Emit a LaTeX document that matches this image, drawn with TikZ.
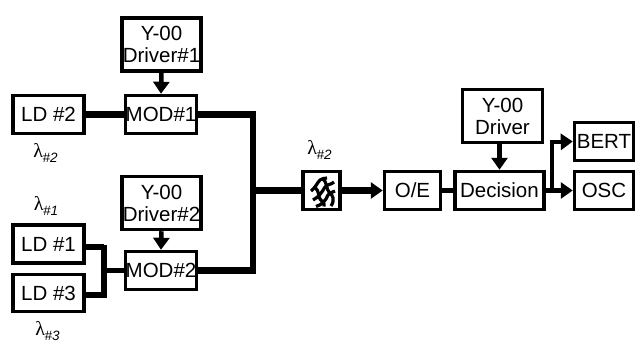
\documentclass[tikz,border=0pt]{standalone}
\usepackage{fontspec}
\setmainfont{Liberation Sans}
\newfontfamily\lamfont{Liberation Serif}
\usetikzlibrary{arrows.meta}
\tikzset{
  x=1pt,y=-1pt,
  blockbox/.style={draw=black,line width=3.5pt,fill=white,inner sep=0pt,rectangle,align=center,font=\fontsize{20.5}{23}\selectfont},
  fibre/.style={line width=6.8pt,draw=black},
  thinwire/.style={line width=4.5pt,draw=black},
  headwire/.style={-{Triangle[length=12pt,width=16pt]}},
  wavelabel/.style={inner sep=0pt,anchor=center},
  glyphline/.style={line width=3.2pt,draw=black}
}
\newcommand{\wl}[1]{{\lamfont\fontsize{20}{20}\selectfont λ}\kern-0.5pt\raisebox{-5pt}{\fontsize{13.5}{14}\selectfont\itshape\##1}}
\begin{document}
\begin{tikzpicture}
\useasboundingbox (0,0) rectangle (635,343);
\node[blockbox,minimum width=79pt,minimum height=53pt] (d1) at (161.5,44.5) {Y-00\\[-1pt]Driver\#1};
\node[blockbox,minimum width=71pt,minimum height=38pt] (m1) at (161,114.5) {MOD\#1};
\node[blockbox,minimum width=71pt,minimum height=38pt] (l2) at (48.5,114.5) {LD \#2};
\node[blockbox,minimum width=79pt,minimum height=53pt] (d2) at (161.5,203) {Y-00\\[-1pt]Driver\#2};
\node[blockbox,minimum width=71pt,minimum height=38pt] (m2) at (161,270.5) {MOD\#2};
\node[blockbox,minimum width=71pt,minimum height=38pt] (l1) at (48.5,244) {LD \#1};
\node[blockbox,minimum width=71pt,minimum height=37pt] (l3) at (48.5,293) {LD \#3};
\node[blockbox,minimum width=37pt,minimum height=38pt] (f) at (321.5,190.5) {};
\node[blockbox,minimum width=56pt,minimum height=38pt] (oe) at (412.5,190.5) {O/E};
\node[blockbox,minimum width=89pt,minimum height=38pt] (dec) at (499.5,190.5) {Decision};
\node[blockbox,minimum width=80pt,minimum height=53pt] (d3) at (502.5,116) {Y-00\\[-1pt]Driver};
\node[blockbox,minimum width=59pt,minimum height=38pt] (bert) at (604,141.5) {BERT};
\node[blockbox,minimum width=59pt,minimum height=38pt] (osc) at (604,190.5) {OSC};
\node[wavelabel] (w2) at (45.5,153) {\wl{2}};
\node[wavelabel] (w1) at (46,206) {\wl{1}};
\node[wavelabel] (w3) at (47.5,331) {\wl{3}};
\node[wavelabel] (wf) at (319.5,150) {\wl{2}};
\coordinate (bus) at (253,190.5);
\coordinate (j) at (104,270.5);
\coordinate (top) at (552,142);
\draw[fibre] (l2.east) -- (m1.west);
\draw[fibre,line join=miter] (m1.east) -| (bus);
\draw[fibre,line join=miter] (m2.east) -| (bus);
\draw[fibre] (bus) -- (f.west);
\draw[fibre,line width=5.5pt] (l1.east |- 0,247) -- (104,247);
\draw[fibre,line width=5.5pt] (l3.east |- 0,295) -- (104,295);
\draw[fibre] (104,244.5) -- (104,297.5);
\draw[fibre,line width=5.5pt] (j) -- (m2.west);
\draw[fibre,headwire] (f.east) -- (oe.west);
\draw[thinwire,headwire] (d1.south) -- (m1.north);
\draw[thinwire,headwire] (d2.south) -- (m2.north);
\draw[thinwire,headwire] (d3.south -| dec.north) -- (dec.north);
\draw[thinwire] (oe.east) -- (dec.west);
\draw[thinwire,headwire] (dec.east) -- (osc.west);
\draw[line width=3.5pt,draw=black] (552,191) -- (552,142) -- (562,142);
\draw[line width=3.5pt,headwire] (top) -- (bert.west);
\draw[glyphline] (311,191) .. controls (316,187) and (317,183) .. (320,180) .. controls (322,178) and (324,179) .. (327,178);
\draw[glyphline] (313,200) .. controls (319,197) and (322,192) .. (325,187) .. controls (327,184) and (331,185) .. (334,182);
\draw[glyphline] (316,206.5) .. controls (322,205) and (326,200) .. (328,195) .. controls (330,192) and (332,193) .. (335,191);
\draw[glyphline] (322,178) .. controls (328,183) and (326,189) .. (329,192) .. controls (333,195) and (335,200) .. (331,206);
\draw[glyphline] (314,187) .. controls (320,191) and (318,196) .. (320,199) .. controls (322,201) and (325,203) .. (324,206.5);
\end{tikzpicture}
\end{document}
